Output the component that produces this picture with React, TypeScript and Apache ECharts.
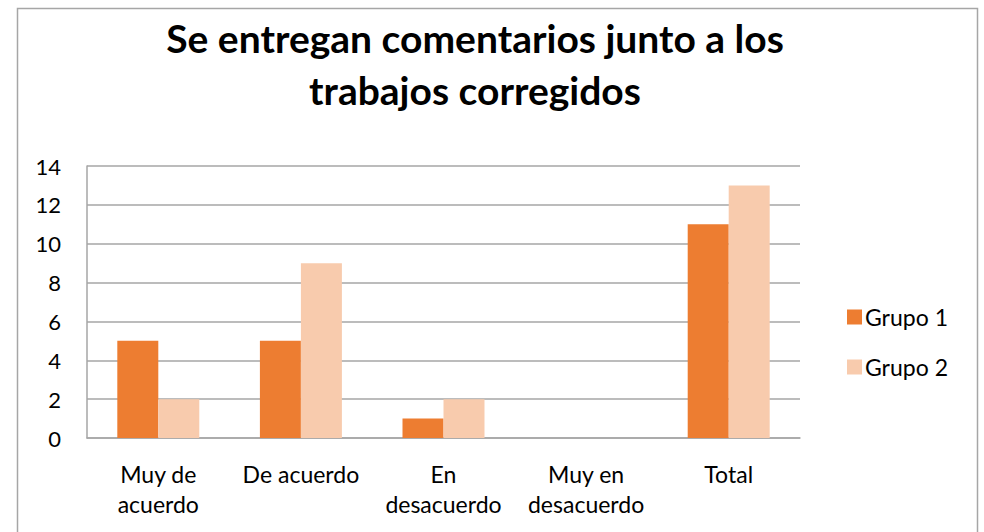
import React, { useEffect, useRef } from "react";
import * as echarts from "echarts";

const categories = ["Muy de\nacuerdo", "De acuerdo", "En\ndesacuerdo", "Muy en\ndesacuerdo", "Total"];
const grupo1 = [5, 5, 1, 0, 11];
const grupo2 = [2, 9, 2, 0, 13];
const seriesNames = ["Grupo 1", "Grupo 2"];
const titleText = "Se entregan comentarios junto a los\ntrabajos corregidos";

const FONT = "Lato, 'Open Sans', sans-serif";

export default function App() {
  const ref = useRef<HTMLDivElement>(null);
  useEffect(() => {
    if (!ref.current) return;
    const chart = echarts.init(ref.current, undefined, { renderer: "svg" });
    chart.setOption({
      animation: false,
      backgroundColor: "#ffffff",
      textStyle: { fontFamily: FONT },
      graphic: [
        {
          type: "rect",
          shape: { x: 17.5, y: 8.5, width: 960, height: 540 },
          style: { fill: "none", stroke: "#a6a6a6", lineWidth: 1.5 },
          silent: true,
        },
        {
          type: "text",
          x: 475,
          y: 12,
          style: {
            text: titleText,
            fontFamily: FONT,
            fontWeight: "bold",
            fontSize: 39,
            lineHeight: 52,
            fill: "#000000",
            textAlign: "center",
            textVerticalAlign: "top",
          },
        },
      ],
      legend: {
        orient: "vertical",
        left: 842,
        top: 300,
        itemWidth: 15,
        itemHeight: 15,
        itemGap: 26,
        icon: "rect",
        data: seriesNames,
        textStyle: { fontFamily: FONT, fontSize: 23, lineHeight: 24, color: "#000000", padding: [0, 0, 0, -2] },
      },
      grid: { left: 87, right: 184, top: 166, bottom: 94, containLabel: false },
      xAxis: {
        type: "category",
        data: categories,
        axisLine: { show: true, lineStyle: { color: "#a6a6a6", width: 1.5 } },
        axisTick: { show: false },
        axisLabel: {
          margin: 21,
          fontFamily: FONT,
          fontSize: 23,
          lineHeight: 30,
          color: "#000000",
          interval: 0,
        },
      },
      yAxis: {
        type: "value",
        min: 0,
        max: 14,
        interval: 2,
        axisLine: { show: true, lineStyle: { color: "#a6a6a6", width: 1.5 } },
        axisTick: { show: false },
        splitLine: { show: true, lineStyle: { color: "#a6a6a6", width: 1.5 } },
        axisLabel: { margin: 26, fontFamily: FONT, fontSize: 22, color: "#000000" },
      },
      series: [
        {
          name: seriesNames[0],
          type: "bar",
          data: grupo1,
          itemStyle: { color: "#ED7D31" },
          barGap: "0%",
          barCategoryGap: "42.5%",
        },
        {
          name: seriesNames[1],
          type: "bar",
          data: grupo2,
          itemStyle: { color: "#F8CBAD" },
          barGap: "0%",
          barCategoryGap: "42.5%",
        },
      ],
    });
    return () => chart.dispose();
  }, []);
  return (
    <div
      ref={ref}
      style={{ position: "absolute", left: 0, top: 0, width: 984, height: 532 }}
    />
  );
}
